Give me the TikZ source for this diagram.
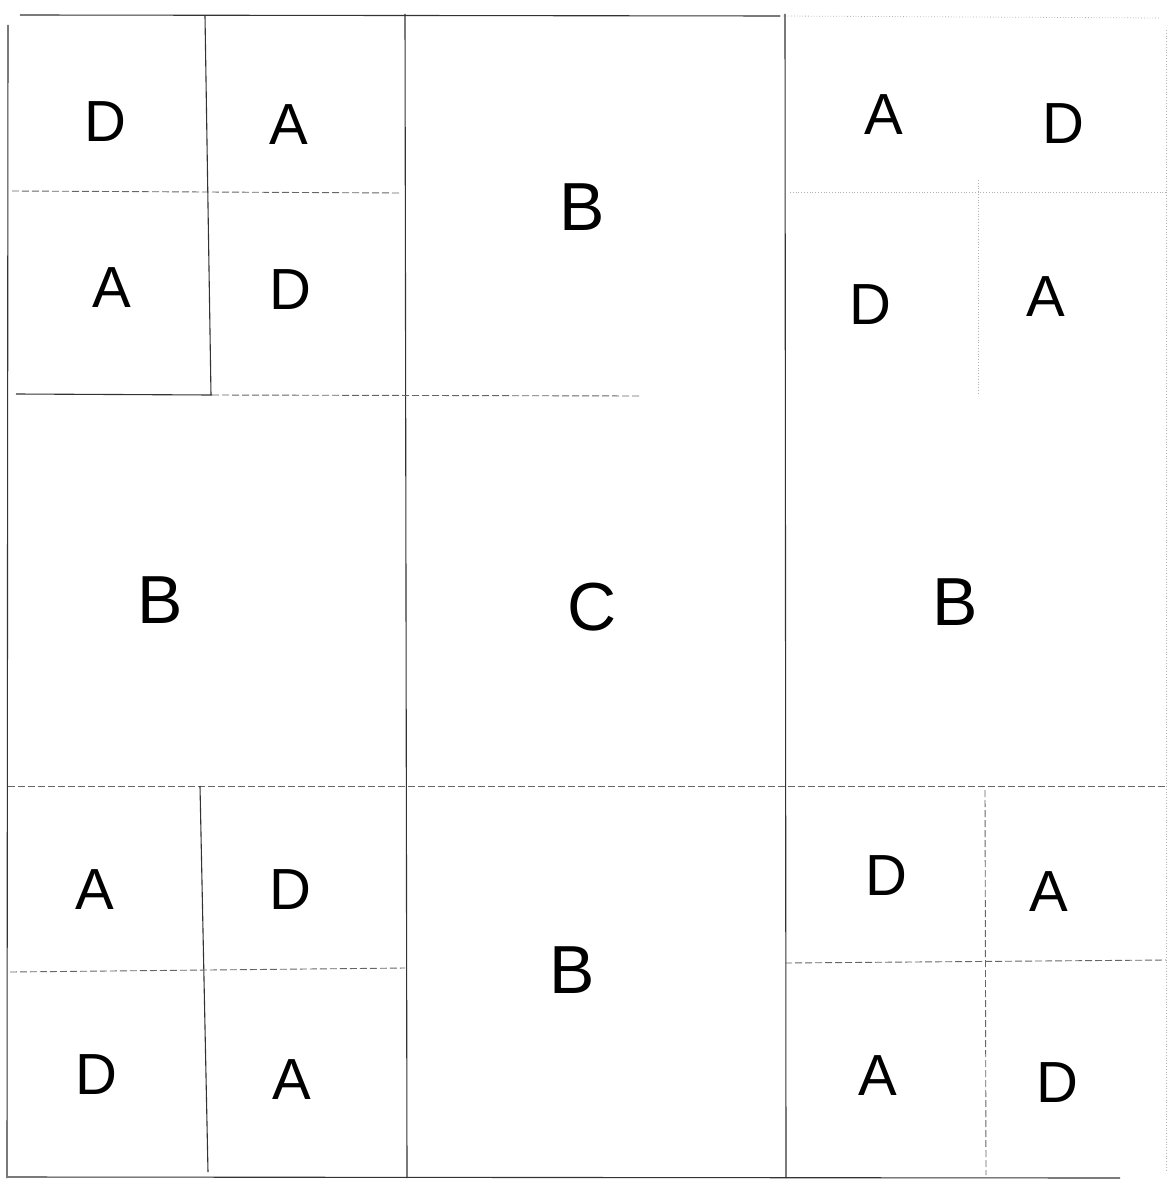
\documentclass[tikz,border=0pt]{standalone}
\usepackage{fontspec}
\setmainfont{Liberation Sans}
\tikzset{
  gridline/.style={black!80, line width=1.1pt},
  faintline/.style={black!60, line width=0.9pt, dash pattern=on 7pt off 3pt},
  paleline/.style={gray!60, line width=0.8pt, dotted},
  tag/.style={font=\fontsize{58}{60}\selectfont},
  bigtag/.style={font=\fontsize{68}{70}\selectfont}
}
\begin{document}
\begin{tikzpicture}[x=1pt, y=-1pt]
  \useasboundingbox (0,0) rectangle (1168,1188);
  % Outer frame
  \draw[gridline] (20,15) -- (780,16);
  \draw[paleline] (780,16) -- (1160,18);
  \draw[gridline] (8,25) -- (7,1178);
  \draw[gridline] (8,1177) -- (1120,1178);
  \draw[paleline] (1166,30) -- (1166,1170);

  % Big 3x3 cells
  \draw[gridline] (405,14) -- (407,1178);
  \draw[gridline] (785,14) -- (786,1178);
  \draw[gridline] (16,394) -- (212,395);
  \draw[faintline] (212,395) -- (640,396);
  \draw[faintline] (8,786) -- (1166,786);

  % Corner splits
  \draw[gridline] (205,16) -- (211,395);
  \draw[faintline] (12,191) -- (400,193);
  \draw[paleline] (978,180) -- (978,395);
  \draw[paleline] (790,192) -- (1166,192);
  \draw[gridline] (200,786) -- (208,1172);
  \draw[faintline] (10,972) -- (405,968);
  \draw[faintline] (985,790) -- (986,1175);
  \draw[faintline] (785,963) -- (1166,960);

  % Letters
  \node[tag] (tl1) at (105,122) {D};
  \node[tag] (tl2) at (289,125) {A};
  \node[tag] (tl3) at (112,288) {A};
  \node[tag] (tl4) at (290,290) {D};
  \node[bigtag] (tm) at (582,207) {B};
  \node[tag] (tr1) at (884,115) {A};
  \node[tag] (tr2) at (1063,124) {D};
  \node[tag] (tr3) at (870,305) {D};
  \node[tag] (tr4) at (1046,297) {A};
  \node[bigtag] (ml) at (160,600) {B};
  \node[bigtag] (mm) at (592,607) {C};
  \node[bigtag] (mr) at (955,602) {B};
  \node[tag] (bl1) at (95,890) {A};
  \node[tag] (bl2) at (290,890) {D};
  \node[tag] (bl3) at (96,1075) {D};
  \node[tag] (bl4) at (292,1080) {A};
  \node[bigtag] (bm) at (572,970) {B};
  \node[tag] (br1) at (886,876) {D};
  \node[tag] (br2) at (1049,892) {A};
  \node[tag] (br3) at (878,1076) {A};
  \node[tag] (br4) at (1057,1083) {D};
\end{tikzpicture}
\end{document}
